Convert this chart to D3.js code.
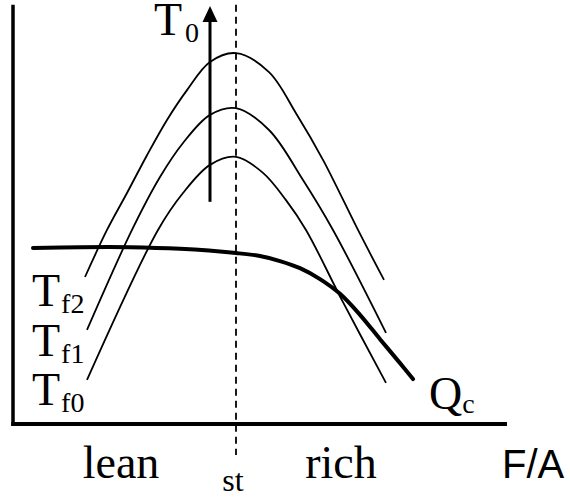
<!DOCTYPE html>
<html>
<head>
<meta charset="utf-8">
<script src="https://cdn.jsdelivr.net/npm/d3@7/dist/d3.min.js"></script>
<style>
  html, body { margin: 0; padding: 0; background: #fff; }
  svg { display: block; }
</style>
</head>
<body>
<svg id="chart" width="570" height="498"></svg>
<script>
// Flame temperature vs. fuel/air ratio for three fuel inlet temperatures,
// together with the heat-loss curve Qc. x: F/A (arbitrary units), y: temperature (arbitrary units).

const stoich = 4.46;               // stoichiometric F/A
const xAxisEnd = 9.88;

// Temperature curves, [F/A, T]
const tf0 = [[1.48,1.05],[2.90,4.62],[3.40,5.50],[3.94,6.17],[4.46,6.36],[5.00,5.98],[5.46,5.33],[5.86,4.62],[6.60,2.90],[7.46,0.98]];
const tf1 = [[1.48,2.24],[2.38,4.62],[2.94,5.88],[3.40,6.69],[3.94,7.36],[4.46,7.52],[5.12,7.00],[5.80,5.81],[6.40,4.62],[7.46,2.17]];
const tf2 = [[1.44,3.50],[1.88,4.62],[2.28,5.50],[2.68,6.40],[3.08,7.24],[3.48,7.95],[3.94,8.62],[4.46,8.83],[5.12,8.38],[5.66,7.40],[6.20,6.29],[6.90,4.62],[7.42,3.43]];
const seriesSubs = ["f0", "f1", "f2"];

// Heat-loss curve Qc, [F/A, Q]
const qc = [[0.40,4.19],[1.34,4.21],[2.34,4.21],[3.34,4.17],[4.46,4.07],[4.94,4.00],[5.34,3.88],[5.74,3.71],[6.14,3.45],[6.54,3.10],[6.94,2.60],[7.34,2.02],[7.74,1.45],[8.00,1.07]];

// Arrow showing increasing T0: [F/A, T from, T to]
const arrowT0 = [3.94, 5.29, 9.95];

// Axis region labels
const regionLabels = ["lean", "st", "rich"];
const regionPos = [2.16, 4.40, 6.56];

const svg = d3.select("#chart");
const x = d3.scaleLinear().domain([0, 10]).range([13, 513]);
const y = d3.scaleLinear().domain([0, 10]).range([424, 4]);

const serif = "'Liberation Serif', 'Times New Roman', serif";

// axes
svg.append("line")
  .attr("x1", x(0)).attr("x2", x(0))
  .attr("y1", y(9.98)).attr("y2", y(0) + 2)
  .attr("stroke", "#000").attr("stroke-width", 3.5);
svg.append("line")
  .attr("x1", x(0) - 1.75).attr("x2", x(xAxisEnd))
  .attr("y1", y(0)).attr("y2", y(0))
  .attr("stroke", "#000").attr("stroke-width", 4);

// stoichiometric line
svg.append("line")
  .attr("x1", x(stoich)).attr("x2", x(stoich))
  .attr("y1", y(9.98)).attr("y2", y(0) + 31)
  .attr("stroke", "#000").attr("stroke-width", 1.8)
  .attr("stroke-dasharray", "7,5");

const line = d3.line()
  .x(d => x(d[0]))
  .y(d => y(d[1]))
  .curve(d3.curveCatmullRom.alpha(0.5));

// temperature curves
[tf0, tf1, tf2].forEach(s => {
  svg.append("path")
    .attr("d", line(s))
    .attr("fill", "none")
    .attr("stroke", "#000")
    .attr("stroke-width", 1.8);
});

// Qc curve
svg.append("path")
  .attr("d", line(qc))
  .attr("fill", "none")
  .attr("stroke", "#000")
  .attr("stroke-width", 4)
  .attr("stroke-linecap", "round");

// T0 arrow
svg.append("line")
  .attr("x1", x(arrowT0[0])).attr("x2", x(arrowT0[0]))
  .attr("y1", y(arrowT0[1])).attr("y2", y(arrowT0[2]) + 14)
  .attr("stroke", "#000").attr("stroke-width", 3);
svg.append("path")
  .attr("d", `M${x(arrowT0[0]) - 7.5},${y(arrowT0[2]) + 16} L${x(arrowT0[0])},${y(arrowT0[2])} L${x(arrowT0[0]) + 7.5},${y(arrowT0[2]) + 16} Z`)
  .attr("fill", "#000");

// label with subscript
function subLabel(px, py, main, sub, subDx, subDy) {
  const t = svg.append("text")
    .attr("x", px).attr("y", py)
    .attr("font-family", serif)
    .attr("font-size", 46)
    .attr("fill", "#000");
  t.append("tspan").text(main);
  t.append("tspan")
    .attr("font-size", 28)
    .attr("dx", subDx).attr("dy", subDy)
    .text(sub);
}

subLabel(x(arrowT0[0]) - 56, 35, "T", "0", 3, 7);

seriesSubs.forEach((s, i) => {
  subLabel(32, 405 - i * 49.5, "T", s, 1, 7);
});

const qEnd = qc[qc.length - 1];
subLabel(x(qEnd[0]) + 16, 409, "Q", "c", 0, 4);

// region labels below the axis
regionLabels.forEach((lab, i) => {
  svg.append("text")
    .attr("x", x(regionPos[i]))
    .attr("y", lab === "st" ? 491 : 478)
    .attr("text-anchor", "middle")
    .attr("font-family", serif)
    .attr("font-size", lab === "st" ? 32 : 46)
    .attr("fill", "#000")
    .text(lab);
});

svg.append("text")
  .attr("x", 502).attr("y", 478)
  .attr("font-family", "'Liberation Sans', Arial, sans-serif")
  .attr("font-size", 40)
  .attr("fill", "#000")
  .text("F/A");
</script>
</body>
</html>
